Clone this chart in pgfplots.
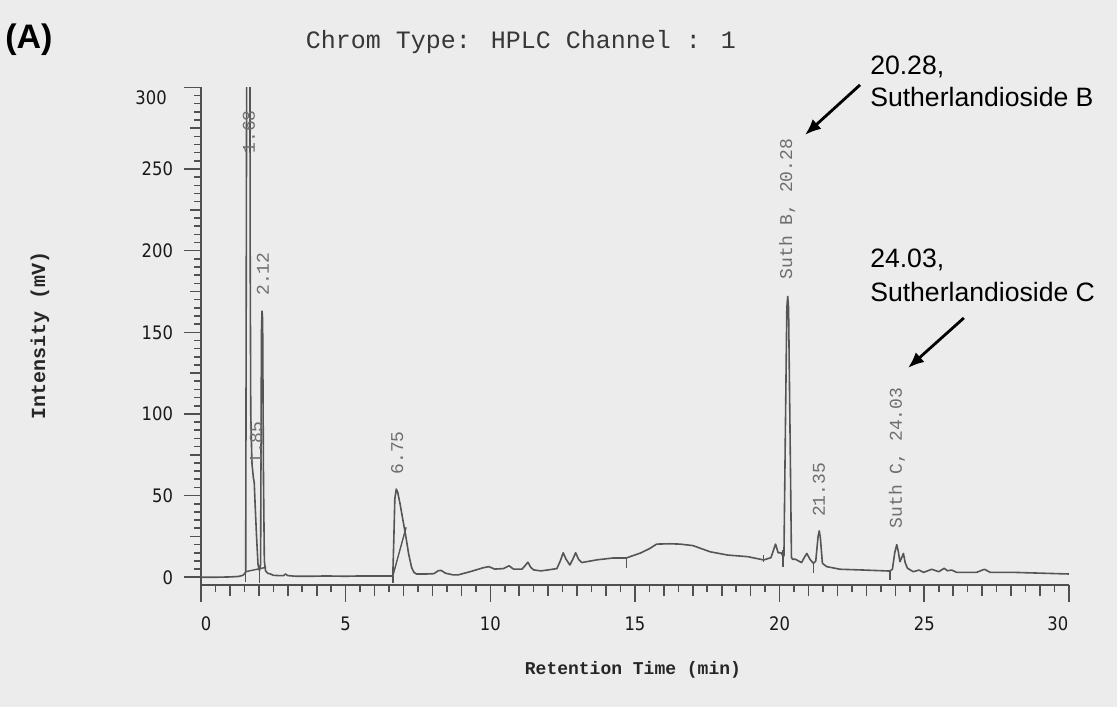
\documentclass[border=0pt]{standalone}
\usepackage{pgfplots}
\pgfplotsset{compat=1.18}
\usepackage{fontspec}
\setmainfont{Liberation Sans}
\newfontfamily\mono{Liberation Mono}
\newfontfamily\tickf[FakeStretch=0.88]{DejaVu Sans}
\usetikzlibrary{arrows.meta,backgrounds}
\definecolor{paper}{RGB}{236,236,236}
\definecolor{trace}{RGB}{85,85,85}
\definecolor{axisgray}{RGB}{80,80,80}
\definecolor{lblgray}{RGB}{110,110,110}
\definecolor{titlegray}{RGB}{55,55,55}
\begin{document}
\begin{tikzpicture}
\begin{axis}[
  x=14.465pt, y=0.8165pt,
  xmin=0, xmax=30, ymin=-4.7, ymax=300,
  enlargelimits=false,
  axis x line=bottom, axis y line=left,
  axis line style={-, draw=axisgray, line width=0.9pt},
  xtick align=outside, ytick align=outside,
  xtick={0,5,...,30}, ytick={0,50,...,300},
  xticklabels={\hspace*{5pt}0,5,10,15,20,25,30\hspace*{11pt}},
  yticklabels={0,50,100,150,200,250,{}},
  minor xtick={0,0.5,...,30}, minor ytick={0,5,...,300},
  extra x ticks={1,2,3,4,6,7,8,9,11,12,13,14,16,17,18,19,21,22,23,24,26,27,28,29},
  extra x tick labels={},
  extra y ticks={25,75,...,275},
  extra y tick labels={},
  extra tick style={major tick length=5.7pt},
  major tick length=8.5pt, minor tick length=3.6pt,
  tick style={draw=axisgray, line width=0.8pt},
  /pgf/number format/assume math mode=true,
  xticklabel style={font=\tickf\fontsize{9.3}{10}\selectfont, text=black!90, yshift=-4pt},
  yticklabel style={font=\tickf\fontsize{9.3}{10}\selectfont, text=black!90, xshift=-2pt},
  clip mode=individual,
]
% chromatogram trace
\addplot[trace, line width=0.8pt, line join=round] coordinates {
(0,0) (0.5,0) (1.0,0.2) (1.3,0.5) (1.45,1.2) (1.545,3)
(1.58,330) (1.61,700) (1.66,700) (1.69,330) (1.70,200) (1.72,100) (1.76,70)
(1.81,61) (1.84,58) (1.87,45) (1.92,25) (1.97,8) (2.02,4) (2.06,8)
(2.09,150) (2.11,163) (2.13,158) (2.16,60) (2.19,10) (2.23,4) (2.3,2.5)
(2.4,2) (2.5,1.2) (2.7,1) (2.85,1) (2.92,2) (3.0,1) (3.3,0.6) (3.8,0.6)
(4.3,0.8) (5.0,0.6) (5.5,0.8) (6.0,0.8) (6.6,0.8) (6.63,1) (6.66,20)
(6.70,48) (6.75,54) (6.80,52) (6.88,45) (6.98,35) (7.08,25) (7.18,14)
(7.28,6) (7.36,3) (7.45,2) (7.8,2) (8.05,2.2) (8.2,4) (8.3,4.2) (8.45,2.5)
(8.7,1.5) (8.9,1.5) (9.3,3.4) (9.75,5.8) (9.95,6.5) (10.15,5) (10.45,5.3)
(10.65,7) (10.8,5) (11.1,5) (11.22,7.5) (11.3,9.2) (11.4,6) (11.5,4.5)
(11.75,3.9) (12.0,4.5) (12.3,5.3) (12.42,10) (12.52,15) (12.62,11)
(12.75,7.5) (12.85,11) (12.95,15) (13.05,11) (13.16,9) (13.7,10.7)
(14.25,11.8) (14.7,11.8) (15.2,14.9) (15.5,17.5) (15.75,20.3) (16.2,20.5)
(16.56,20.3) (17.0,19.4) (17.3,17.5) (17.6,15.6) (18.2,13.6) (18.9,12.6)
(19.45,10.6) (19.7,12) (19.86,20.3) (19.95,15) (20.05,15) (20.12,13)
(20.15,13) (20.2,90) (20.25,165) (20.28,172) (20.31,165) (20.36,90)
(20.41,12) (20.45,11) (20.55,11) (20.65,10) (20.76,9) (20.85,12)
(20.94,14.6) (21.05,11) (21.17,8.5) (21.25,10) (21.33,25) (21.37,28.4)
(21.41,24) (21.48,8.5) (21.63,6.5) (22.09,4.9) (22.78,4.5) (23.82,3.8)
(23.9,5) (23.98,15) (24.05,20) (24.1,16) (24.16,9.5) (24.22,12)
(24.28,14.6) (24.34,9) (24.42,5.5) (24.62,3.4) (24.82,4.4) (24.98,3)
(25.26,4.9) (25.5,3.4) (25.69,5.5) (25.8,4) (25.95,4.4) (26.12,3)
(26.81,3) (27.08,4.9) (27.28,3) (28.08,3) (29.23,2.4) (30.0,2)
};
% integration baselines and event marks
\addplot[trace, line width=0.7pt] coordinates {(1.545,3.4) (2.25,6.1)};
\addplot[trace, line width=0.7pt] coordinates {(6.63,0.8) (7.09,30.6)};
\addplot[trace, line width=0.7pt] coordinates {(1.545,3) (1.545,-2.7)};
\addplot[trace, line width=0.7pt] coordinates {(2.02,5) (2.02,-3.7)};
\addplot[trace, line width=0.7pt] coordinates {(6.63,1) (6.63,-3.7)};
\addplot[trace, line width=0.7pt] coordinates {(14.71,11.8) (14.71,5.5)};
\addplot[trace, line width=0.7pt] coordinates {(19.44,13.6) (19.44,9.6)};
\addplot[trace, line width=0.7pt] coordinates {(20.12,16.7) (20.12,6.5)};
\addplot[trace, line width=0.7pt] coordinates {(21.17,9.6) (21.17,2.8)};
\addplot[trace, line width=0.7pt] coordinates {(23.82,3.9) (23.82,-1.7)};
% top y tick label, set lower as in the original print-out
\node[font=\tickf\fontsize{9.3}{10}\selectfont, text=black!90, anchor=east, xshift=-13.6pt] at (axis cs:0,293.5) {300};
% peak labels
\begin{scope}[every node/.style={font=\mono\fontsize{9}{9}\selectfont, text=lblgray, rotate=90}]
\node at (axis cs:1.66,272.7) {1.68};
\node at (axis cs:1.90,82.2) {1.85};
\node at (axis cs:2.14,185.7) {2.12};
\node at (axis cs:6.78,76.1) {6.75};
\node at (axis cs:20.26,225.5) {Suth B, 20.28};
\node at (axis cs:21.36,53.5) {21.35};
\node at (axis cs:24.06,73.1) {Suth C, 24.03};
\end{scope}
% annotations
\node[font=\fontsize{13.3}{16}\selectfont, align=left, anchor=west, inner sep=0] at (axis cs:23.12,303.9) {20.28,\\Sutherlandioside B};
\draw[-{Latex[length=8pt,width=6.5pt]}, line width=1.4pt] (axis cs:22.78,301.5) -- (axis cs:20.88,270.9);
\node[font=\fontsize{13.3}{17}\selectfont, align=left, anchor=west, inner sep=0] at (axis cs:23.12,185.1) {24.03,\\Sutherlandioside C};
\draw[-{Latex[length=8pt,width=6.5pt]}, line width=1.4pt] (axis cs:26.37,158.8) -- (axis cs:24.44,128.2);
% titles and labels
\node[font=\mono\fontsize{12.5}{14}\selectfont, text=titlegray] at (axis cs:11.06,328) {Chrom Type: HPLC Channel : 1};
\node[font=\bfseries\fontsize{17}{17}\selectfont, anchor=west, inner sep=0] at (axis cs:-6.78,329) {(A)};
\node[font=\mono\bfseries\fontsize{10}{10}\selectfont, rotate=90, text=black!85] at (axis cs:-5.57,147.8) {Intensity (mV)};
\node[font=\mono\bfseries\fontsize{9}{9}\selectfont, text=black!85] at (axis cs:14.93,-56.8) {Retention Time (min)};
\coordinate (bbsw) at (axis cs:-6.948,-79.4);
\coordinate (bbne) at (axis cs:31.663,353.5);
\end{axis}
\begin{pgfonlayer}{background}
\fill[paper] (bbsw) rectangle (bbne);
\end{pgfonlayer}
\pgfresetboundingbox
\useasboundingbox (bbsw) rectangle (bbne);
\end{tikzpicture}
\end{document}
